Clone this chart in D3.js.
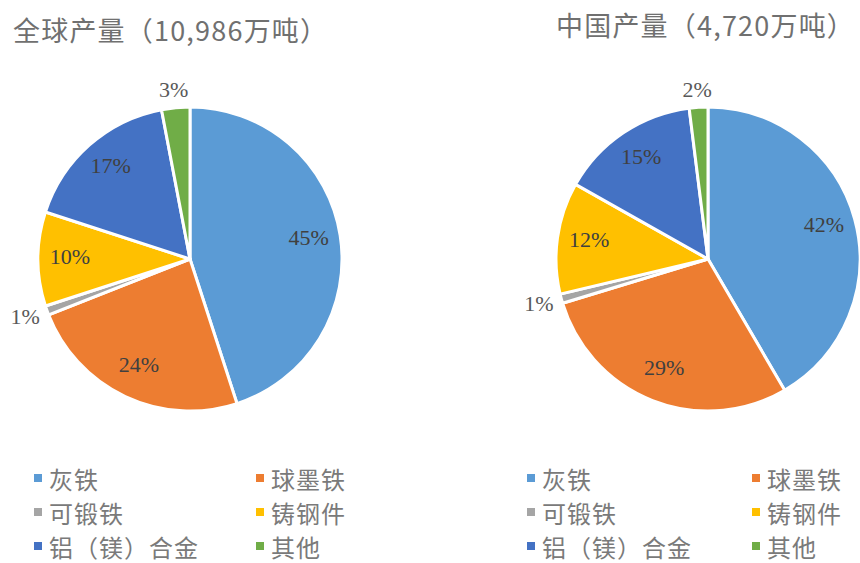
<!DOCTYPE html>
<html>
<head>
<meta charset="utf-8">
<script src="https://cdn.jsdelivr.net/npm/d3@7"></script>
<style>
  html, body { margin: 0; padding: 0; background: #fff; }
  svg { display: block; }
</style>
</head>
<body>
<svg id="chart" width="860" height="563"></svg>
<script>
const categories = ["灰铁", "球墨铁", "可锻铁", "铸钢件", "铝（镁）合金", "其他"];
const globalValues = [45, 24, 1, 10, 17, 3];
const chinaValues = [42, 29, 1, 12, 15, 2];
const chartTitles = ["全球产量（10,986万吨）", "中国产量（4,720万吨）"];
const colors = ["#5B9BD5", "#ED7D31", "#A5A5A5", "#FFC000", "#4472C4", "#70AD47"];

const svg = d3.select("#chart");
const cjk = "'Noto Sans CJK SC', 'Noto Sans', sans-serif";
const serif = "'Liberation Serif', 'DejaVu Serif', serif";

const panels = [
  { values: globalValues, title: chartTitles[0], cx: 190, cy: 259, r: 152, titleX: 13, titleY: 41,
    legendX: [34, 256] },
  { values: chinaValues, title: chartTitles[1], cx: 708, cy: 259, r: 152, titleX: 556, titleY: 36,
    legendX: [527, 752] }
];

const pie = d3.pie().sort(null).value(d => d);

panels.forEach(p => {
  const g = svg.append("g");
  g.append("text")
    .attr("x", p.titleX).attr("y", p.titleY)
    .attr("font-family", cjk).attr("font-size", 27)
    .attr("letter-spacing", 1.2)
    .attr("fill", "#707070")
    .text(p.title);

  const arc = d3.arc().innerRadius(0).outerRadius(p.r);
  const arcs = pie(p.values);
  const pg = g.append("g").attr("transform", `translate(${p.cx},${p.cy})`);
  pg.selectAll("path").data(arcs).join("path")
    .attr("d", arc)
    .attr("fill", (d, i) => colors[i])
    .attr("stroke", "#fff")
    .attr("stroke-width", 3)
    .attr("stroke-linejoin", "round");

  const fs = 22;
  arcs.forEach((d, i) => {
    const a = (d.startAngle + d.endAngle) / 2;
    const sx = Math.sin(a), sy = -Math.cos(a);
    const label = d.data + "%";
    let x, y;
    if (d.data < 5) {
      const hw = label.length * fs * 0.32, hh = fs * 0.42;
      const rr = p.r + 9;
      x = sx * rr + sx * hw;
      y = sy * rr + sy * hh;
    } else {
      const rr = p.r * 0.79;
      x = sx * rr; y = sy * rr - 3;
    }
    pg.append("text")
      .attr("x", x).attr("y", y)
      .attr("text-anchor", "middle")
      .attr("dominant-baseline", "central")
      .attr("font-family", serif).attr("font-size", fs)
      .attr("fill", d.data < 5 ? "#595959" : "#404040")
      .text(label);
  });

  const rowY = [478, 512, 546];
  categories.forEach((c, i) => {
    const col = i % 2, row = Math.floor(i / 2);
    const lx = p.legendX[col], ly = rowY[row];
    g.append("rect")
      .attr("x", lx).attr("y", ly - 4)
      .attr("width", 8).attr("height", 8)
      .attr("fill", colors[i]);
    g.append("text")
      .attr("x", lx + 15).attr("y", ly)
      .attr("dominant-baseline", "central")
      .attr("font-family", cjk).attr("font-size", 24)
      .attr("letter-spacing", 1)
      .attr("fill", "#7a7a7a")
      .text(c);
  });
});
</script>
</body>
</html>
